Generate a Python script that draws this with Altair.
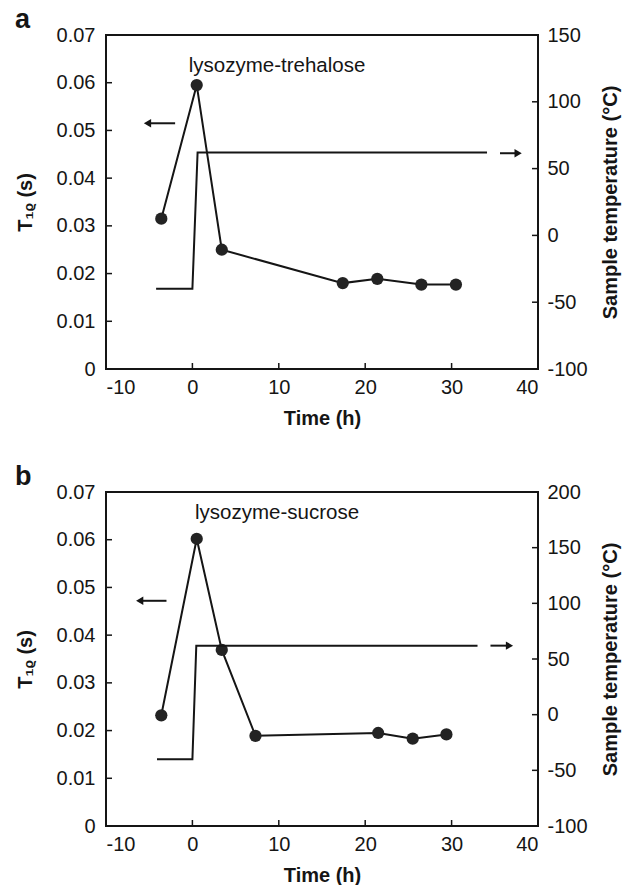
import altair as alt
import pandas as pd

# ---- data ----
time_a = [-3.6, 0.5, 3.4, 17.4, 21.4, 26.5, 30.5]
t1_a = [0.0315, 0.0595, 0.0250, 0.0180, 0.0189, 0.0177, 0.0177]
temp_time_a = [-4.2, 0.0, 0.6, 34.1]
temp_a = [-40, -40, 62, 62]

time_b = [-3.6, 0.5, 3.4, 7.3, 21.5, 25.5, 29.4]
t1_b = [0.0232, 0.0602, 0.0369, 0.0189, 0.0195, 0.0183, 0.0192]
temp_time_b = [-4.1, 0.0, 0.45, 33.0]
temp_b = [-40, -40, 62, 62]

x_ticks = [-10, 0, 10, 20, 30, 40]
t1_ticks = [0, 0.01, 0.02, 0.03, 0.04, 0.05, 0.06, 0.07]
temp_ticks_a = [-100, -50, 0, 50, 100, 150]
temp_ticks_b = [-100, -50, 0, 50, 100, 150, 200]

W, H = 432, 334
FONT = "Liberation Sans"
INK = "#151515"
FS = 20


def panel(letter, label, label_xy, times, t1, ttimes, temps, tdomain, tticks,
          arrow_l, arrow_r):
    xs = alt.Scale(domain=[-10, 40], nice=False, zero=False)
    xenc = alt.X("x:Q", scale=xs,
                 axis=alt.Axis(values=x_ticks, title="Time (h)",
                               labelExpr="'' + datum.value",
                               ticks=False, tickSize=0, domain=False, grid=False,
                               labelPadding=8, titlePadding=11))
    yA = alt.Y("y1:Q",
               scale=alt.Scale(domain=[0, 0.07], nice=False, zero=False),
               axis=alt.Axis(orient="left", values=t1_ticks, title="T₁ᵨ (s)",
                             format=".2~f", ticks=False, tickSize=0, domain=False,
                             grid=False, labelPadding=11, titlePadding=21))
    yB = alt.Y("y2:Q",
               scale=alt.Scale(domain=tdomain, nice=False, zero=False),
               axis=alt.Axis(orient="right", values=tticks,
                             title="Sample temperature (°C)",
                             labelExpr="'' + datum.value", titleAngle=270,
                             titleBaseline="top",
                             ticks=False, tickSize=0, domain=False, grid=False,
                             labelPadding=9, titlePadding=13))

    pts = pd.DataFrame({"x": times, "y1": t1})
    line = alt.Chart(pts).mark_line(color=INK, strokeWidth=2).encode(x=xenc, y=yA)
    dots = alt.Chart(pts).mark_circle(size=150, color="#232323", opacity=1).encode(x=xenc, y=yA)

    tl = pd.DataFrame({"y1": t1_ticks})
    ticks_l = alt.Chart(tl).mark_rule(color=INK, strokeWidth=1.5).encode(
        y=yA, x=alt.value(0), x2=alt.value(6))
    tb = pd.DataFrame({"x": x_ticks})
    ticks_b = alt.Chart(tb).mark_rule(color=INK, strokeWidth=1.5).encode(
        x=xenc, y=alt.value(H), y2=alt.value(H - 6))

    al = pd.DataFrame({"x": [arrow_l[0]], "x2": [arrow_l[1]], "y1": [arrow_l[2]]})
    arr_l = alt.Chart(al).mark_rule(color=INK, strokeWidth=2).encode(
        x=xenc, x2="x2:Q", y=yA)
    head_l = alt.Chart(al).mark_point(shape="triangle-left", filled=True, size=70,
                                      color=INK, opacity=1).encode(
        x=alt.X("x2:Q", scale=xs), y=yA)

    lab = pd.DataFrame({"x": [label_xy[0]], "y1": [label_xy[1]], "t": [label]})
    text = alt.Chart(lab).mark_text(fontSize=20.5, font=FONT, align="center",
                                    baseline="middle", color=INK).encode(
        x=xenc, y=yA, text="t:N")

    left = alt.layer(line, dots, ticks_l, ticks_b, arr_l, head_l, text)

    tdf = pd.DataFrame({"x": ttimes, "y2": temps})
    tline = alt.Chart(tdf).mark_line(color=INK, strokeWidth=2).encode(x=xenc, y=yB)
    tr = pd.DataFrame({"y2": tticks})
    ticks_r = alt.Chart(tr).mark_rule(color=INK, strokeWidth=1.5).encode(
        y=yB, x=alt.value(W - 6), x2=alt.value(W))
    ar = pd.DataFrame({"x": [arrow_r[0]], "x2": [arrow_r[1]], "y2": [arrow_r[2]]})
    arr_r = alt.Chart(ar).mark_rule(color=INK, strokeWidth=2).encode(
        x=xenc, x2="x2:Q", y=yB)
    head_r = alt.Chart(ar).mark_point(shape="triangle-right", filled=True, size=70,
                                      color=INK, opacity=1).encode(
        x=alt.X("x2:Q", scale=xs), y=yB)

    right = alt.layer(tline, ticks_r, arr_r, head_r)

    return alt.layer(left, right).resolve_scale(y="independent").properties(
        width=W, height=H,
        title=alt.TitleParams(text=letter, anchor="start", fontSize=27,
                              fontWeight="bold", font=FONT, color=INK, offset=-9,
                              frame="bounds"))


pa = panel("a", "lysozyme-trehalose", (9.8, 0.0635), time_a, t1_a,
           temp_time_a, temp_a, [-100, 150], temp_ticks_a,
           (-2.0, -5.2, 0.0515), (35.6, 37.7, 61.5))
pb = panel("b", "lysozyme-sucrose", (9.8, 0.0655), time_b, t1_b,
           temp_time_b, temp_b, [-100, 200], temp_ticks_b,
           (-3.0, -6.1, 0.0472), (34.5, 36.7, 62))

chart = alt.vconcat(pa, pb, spacing=33).properties(
    padding={"left": 14, "top": 5, "right": 5, "bottom": 0},
    background="white",
).configure_view(stroke=INK, strokeWidth=2).configure_axis(
    labelFont=FONT, titleFont=FONT, labelFontSize=FS, titleFontSize=FS,
    labelColor=INK, titleColor=INK, titleFontWeight="bold", labelFontWeight="normal"
)

chart.save("out.html", embed_options={"renderer": "svg", "actions": False})
